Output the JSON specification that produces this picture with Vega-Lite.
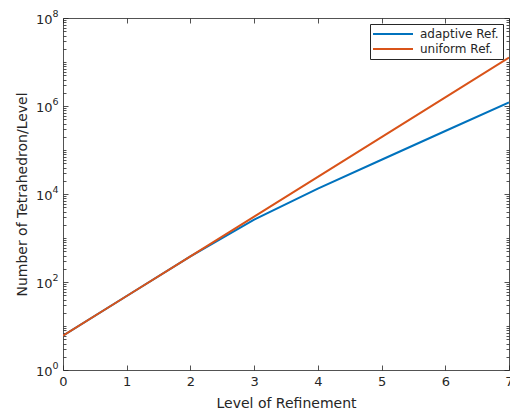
{
  "$schema": "https://vega.github.io/schema/vega-lite/v6.json",
  "width": 446,
  "height": 352,
  "autosize": {"type": "none"},
  "padding": {"left": 63, "top": 18, "right": 1, "bottom": 45},
  "background": "white",
  "config": {
    "view": {"stroke": null},
    "font": "DejaVu Sans",
    "axis": {
      "grid": false,
      "domainColor": "#262626",
      "domainWidth": 0.8,
      "tickColor": "#262626",
      "tickWidth": 0.8,
      "labelColor": "#262626",
      "titleColor": "#262626",
      "labelFont": "DejaVu Sans",
      "titleFont": "DejaVu Sans",
      "labelFontSize": 13,
      "titleFontSize": 14,
      "titleFontWeight": "normal",
      "labelOverlap": false,
      "labelBound": false,
      "labelFlush": false
    }
  },
  "data": {
    "values": [
      {"level": 0, "n": 6, "series": "adaptive Ref."},
      {"level": 1, "n": 48, "series": "adaptive Ref."},
      {"level": 2, "n": 384, "series": "adaptive Ref."},
      {"level": 3, "n": 2630, "series": "adaptive Ref."},
      {"level": 4, "n": 13200, "series": "adaptive Ref."},
      {"level": 5, "n": 60000, "series": "adaptive Ref."},
      {"level": 6, "n": 270000, "series": "adaptive Ref."},
      {"level": 7, "n": 1200000, "series": "adaptive Ref."},
      {"level": 0, "n": 6, "series": "uniform Ref."},
      {"level": 1, "n": 48, "series": "uniform Ref."},
      {"level": 2, "n": 384, "series": "uniform Ref."},
      {"level": 3, "n": 3072, "series": "uniform Ref."},
      {"level": 4, "n": 24576, "series": "uniform Ref."},
      {"level": 5, "n": 196608, "series": "uniform Ref."},
      {"level": 6, "n": 1572864, "series": "uniform Ref."},
      {"level": 7, "n": 12582912, "series": "uniform Ref."}
    ]
  },
  "layer": [
    {
      "mark": {"type": "line", "strokeWidth": 2, "clip": true},
      "encoding": {
        "x": {
          "field": "level", "type": "quantitative",
          "scale": {"domain": [0, 7], "nice": false},
          "axis": {
            "orient": "bottom",
            "values": [0, 1, 2, 3, 4, 5, 6, 7],
            "format": "d",
            "tickSize": -5,
            "labelPadding": 10,
            "title": "Level of Refinement",
            "titlePadding": 8
          }
        },
        "y": {
          "field": "n", "type": "quantitative",
          "scale": {"type": "log", "domain": [1, 100000000], "nice": false},
          "axis": {
            "orient": "left",
            "values": [1,2,3,4,5,6,7,8,9,10,20,30,40,50,60,70,80,90,100,200,300,400,500,600,700,800,900,1000,2000,3000,4000,5000,6000,7000,8000,9000,10000,20000,30000,40000,50000,60000,70000,80000,90000,100000,200000,300000,400000,500000,600000,700000,800000,900000,1000000,2000000,3000000,4000000,5000000,6000000,7000000,8000000,9000000,10000000,20000000,30000000,40000000,50000000,60000000,70000000,80000000,90000000,100000000],
            "labelExpr": "indexof([1,100,10000,1000000,100000000], datum.value) >= 0 ? '10' : ''",
            "tickSize": {"condition": {"test": "indexof([1,100,10000,1000000,100000000], datum.value) >= 0", "value": -5}, "value": -3},
            "labelPadding": 16,
            "labelOffset": 1,
            "title": "Number of Tetrahedron/Level",
            "titlePadding": 6
          }
        },
        "color": {
          "field": "series", "type": "nominal",
          "scale": {"domain": ["adaptive Ref.", "uniform Ref."], "range": ["#0072BD", "#D95319"]},
          "legend": {
            "title": null,
            "orient": "top-right",
            "offset": 6,
            "fillColor": "white",
            "strokeColor": "#262626",
            "padding": 4,
            "symbolType": "M-4,0H4",
            "symbolSize": 100,
            "symbolStrokeWidth": 2,
            "symbolOffset": 13,
            "labelOffset": 21,
            "labelFontSize": 12,
            "labelColor": "#262626",
            "labelFont": "DejaVu Sans",
            "rowPadding": 3
          }
        }
      }
    },
    {
      "mark": {"type": "point", "opacity": 0},
      "encoding": {
        "x": {
          "field": "level", "type": "quantitative",
          "axis": {"orient": "top", "values": [0, 1, 2, 3, 4, 5, 6, 7], "labels": false, "tickSize": -5, "title": null}
        },
        "y": {
          "field": "n", "type": "quantitative",
          "axis": {
            "orient": "right",
            "values": [1,2,3,4,5,6,7,8,9,10,20,30,40,50,60,70,80,90,100,200,300,400,500,600,700,800,900,1000,2000,3000,4000,5000,6000,7000,8000,9000,10000,20000,30000,40000,50000,60000,70000,80000,90000,100000,200000,300000,400000,500000,600000,700000,800000,900000,1000000,2000000,3000000,4000000,5000000,6000000,7000000,8000000,9000000,10000000,20000000,30000000,40000000,50000000,60000000,70000000,80000000,90000000,100000000],
            "labels": false,
            "tickSize": {"condition": {"test": "indexof([1,100,10000,1000000,100000000], datum.value) >= 0", "value": -5}, "value": -3},
            "title": null
          }
        }
      }
    },
    {
      "mark": {"type": "point", "opacity": 0},
      "encoding": {
        "y": {
          "field": "n", "type": "quantitative",
          "axis": {
            "orient": "left",
            "values": [1, 100, 10000, 1000000, 100000000],
            "labelExpr": "datum.value==1?'0':datum.value==100?'2':datum.value==10000?'4':datum.value==1000000?'6':'8'",
            "labelFontSize": 9.5,
            "labelPadding": 5,
            "labelOffset": -5,
            "ticks": false,
            "domain": false,
            "title": null
          }
        }
      }
    }
  ],
  "resolve": {"axis": {"x": "independent", "y": "independent"}}
}
